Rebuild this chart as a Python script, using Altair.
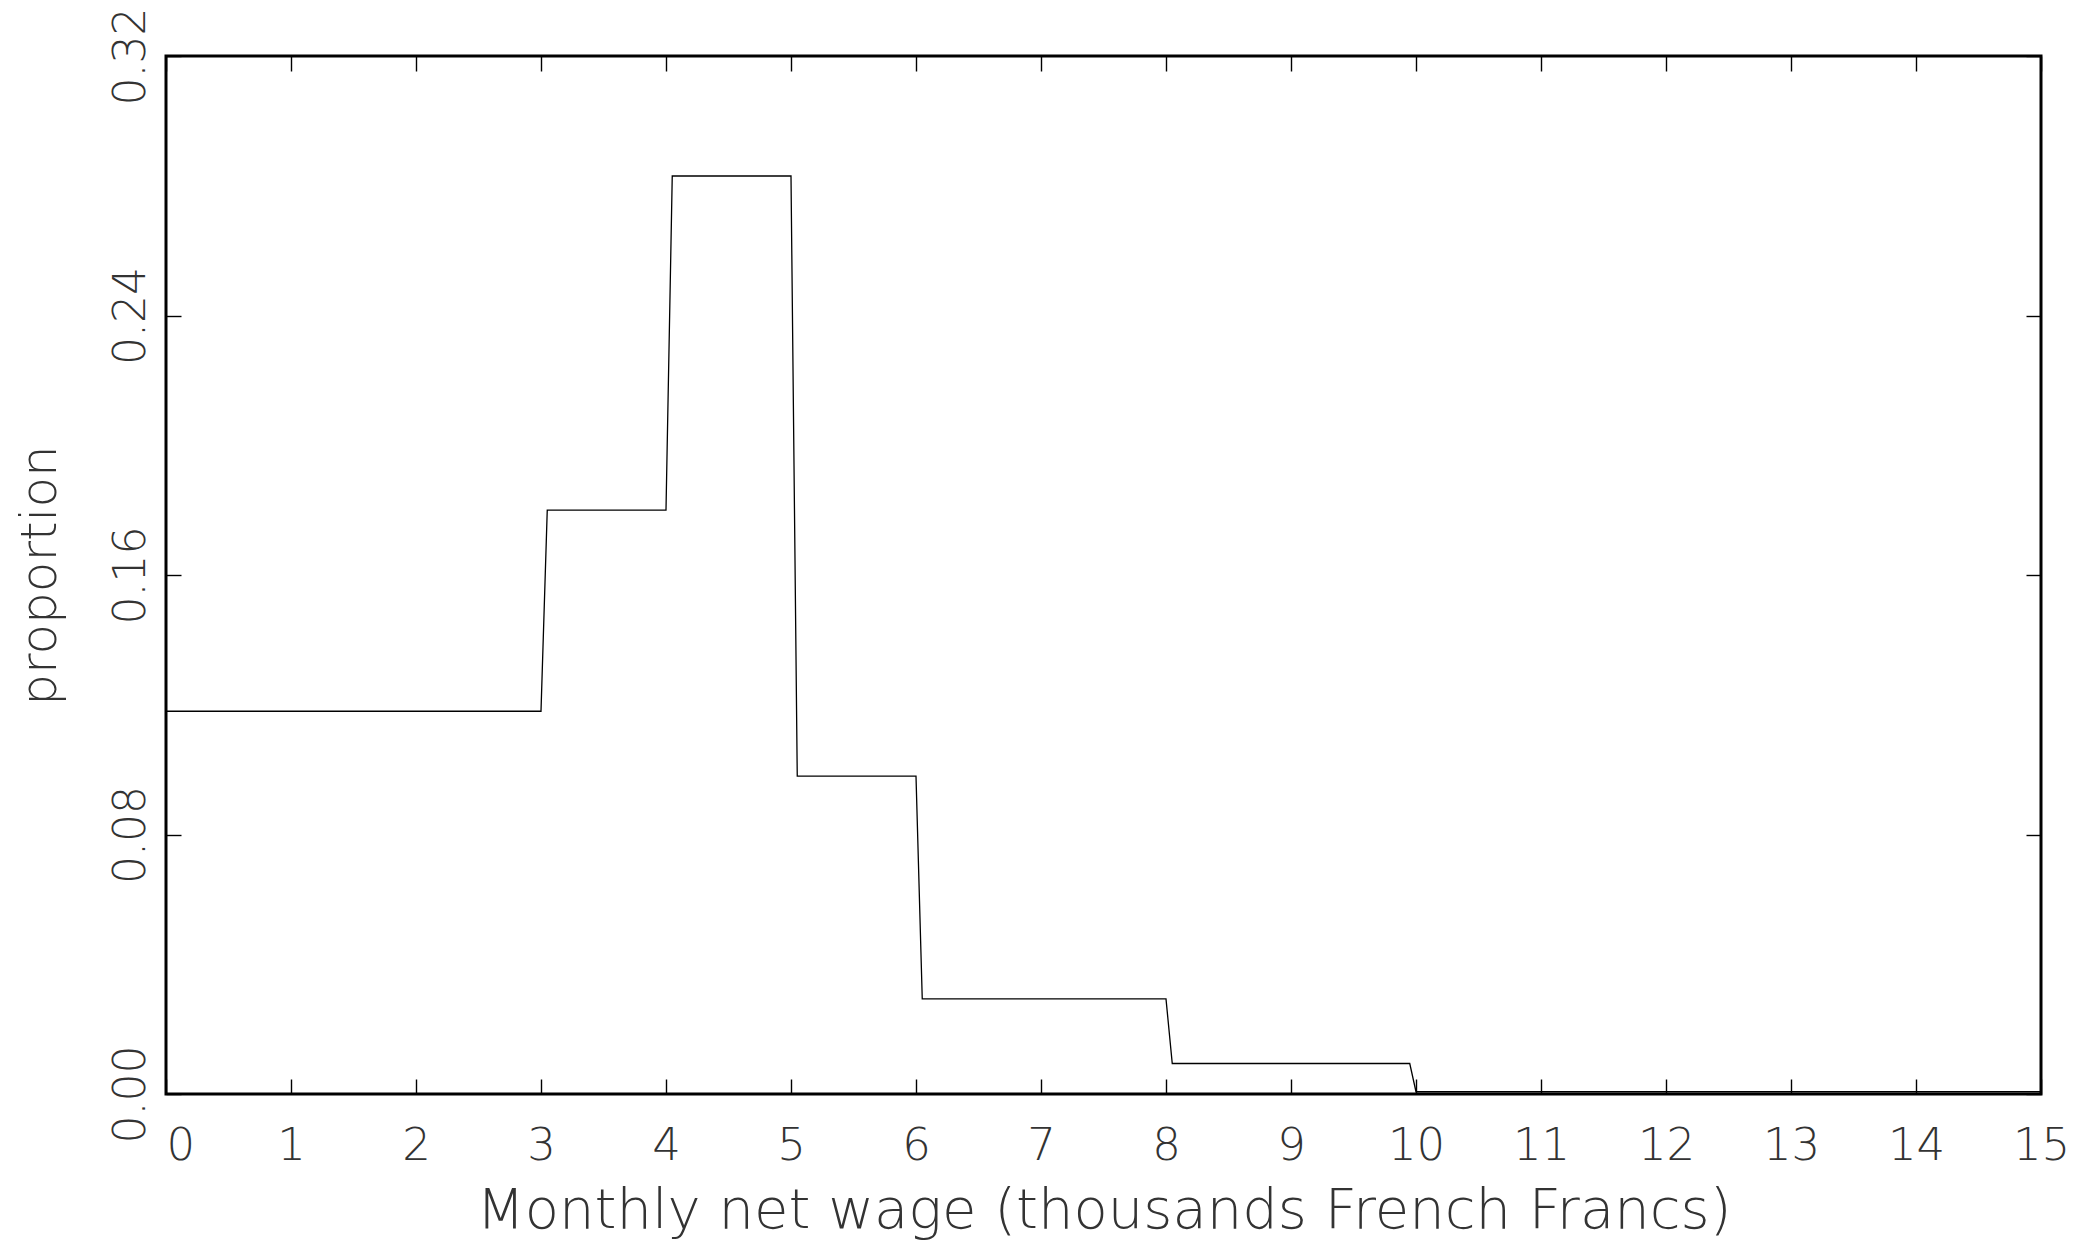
import altair as alt
import pandas as pd

# Step outline of the wage histogram (thousands FF vs proportion)
wage = [0, 3, 3.05, 4, 4.05, 5, 5.05, 6, 6.05, 8, 8.05, 9.95, 10, 15]
proportion = [0.118, 0.118, 0.180, 0.180, 0.283, 0.283, 0.098, 0.098,
              0.0293, 0.0293, 0.0094, 0.0094, 0.0007, 0.0007]
order = list(range(len(wage)))

x_ticks = list(range(0, 16))
y_ticks = [0.0, 0.08, 0.16, 0.24, 0.32]

df = pd.DataFrame({"wage": wage, "proportion": proportion, "order": order})

FONT = "DejaVu Sans"
W, H = 1875, 1038
TICK = {"expr": "-15"}

x_scale = alt.Scale(domain=[0, 15], nice=False, zero=False)
y_scale = alt.Scale(domain=[0, 0.32], nice=False)

main = alt.Chart(df).mark_line(color="black", strokeWidth=1.3, interpolate="linear").encode(
    x=alt.X("wage:Q", scale=x_scale,
            axis=alt.Axis(orient="bottom", values=x_ticks, format="d", grid=False, domain=False,
                          tickSize=TICK, tickColor="black", tickWidth=1.4,
                          labelFont=FONT, labelFontWeight=200, labelFontSize=45, labelColor="#333",
                          labelPadding=44, labelBaseline="top",
                          labelAlign=alt.condition("datum.value == 0", alt.value("left"), alt.value("center")),
                          labelOverlap=False, labelFlush=False,
                          title="Monthly net wage (thousands French Francs)",
                          titleFont=FONT, titleFontWeight=200, titleFontSize=56, titleColor="#333",
                          titleX=W / 2, titleY=133, titleAlign="center", titleBaseline="alphabetic")),
    y=alt.Y("proportion:Q", scale=y_scale,
            axis=alt.Axis(orient="left", values=y_ticks, format=".2f", grid=False, domain=False,
                          tickSize=TICK, tickColor="black", tickWidth=1.4,
                          labelFont=FONT, labelFontWeight=200, labelFontSize=44, labelColor="#333",
                          labelAngle=270, labelAlign="center", labelBaseline="alphabetic",
                          labelPadding=37, labelOverlap=False, labelFlush=False,
                          title="proportion",
                          titleFont=FONT, titleFontWeight=200, titleFontSize=50, titleColor="#333",
                          titleAngle=270, titleX=-111, titleY=H / 2, titleAlign="center",
                          titleBaseline="alphabetic")),
    order="order:O",
)

mirror = alt.Chart(df).mark_line(strokeOpacity=0).encode(
    x=alt.X("wage:Q", scale=x_scale,
            axis=alt.Axis(orient="top", values=x_ticks, grid=False, domain=False, labels=False,
                          tickSize=TICK, tickColor="black", tickWidth=1.4, title=None)),
    y=alt.Y("proportion:Q", scale=y_scale,
            axis=alt.Axis(orient="right", values=y_ticks, grid=False, domain=False, labels=False,
                          tickSize=TICK, tickColor="black", tickWidth=1.4, title=None)),
    order="order:O",
)

chart = alt.layer(main, mirror).resolve_axis(x="independent", y="independent").properties(
    width=W, height=H,
    autosize=alt.AutoSizeParams(type="none"),
    padding={"left": 158, "top": 48, "right": 40, "bottom": 148},
    background="white",
).configure_view(stroke="black", strokeWidth=3)

chart.save("out.html", embed_options={"renderer": "svg", "actions": False})
